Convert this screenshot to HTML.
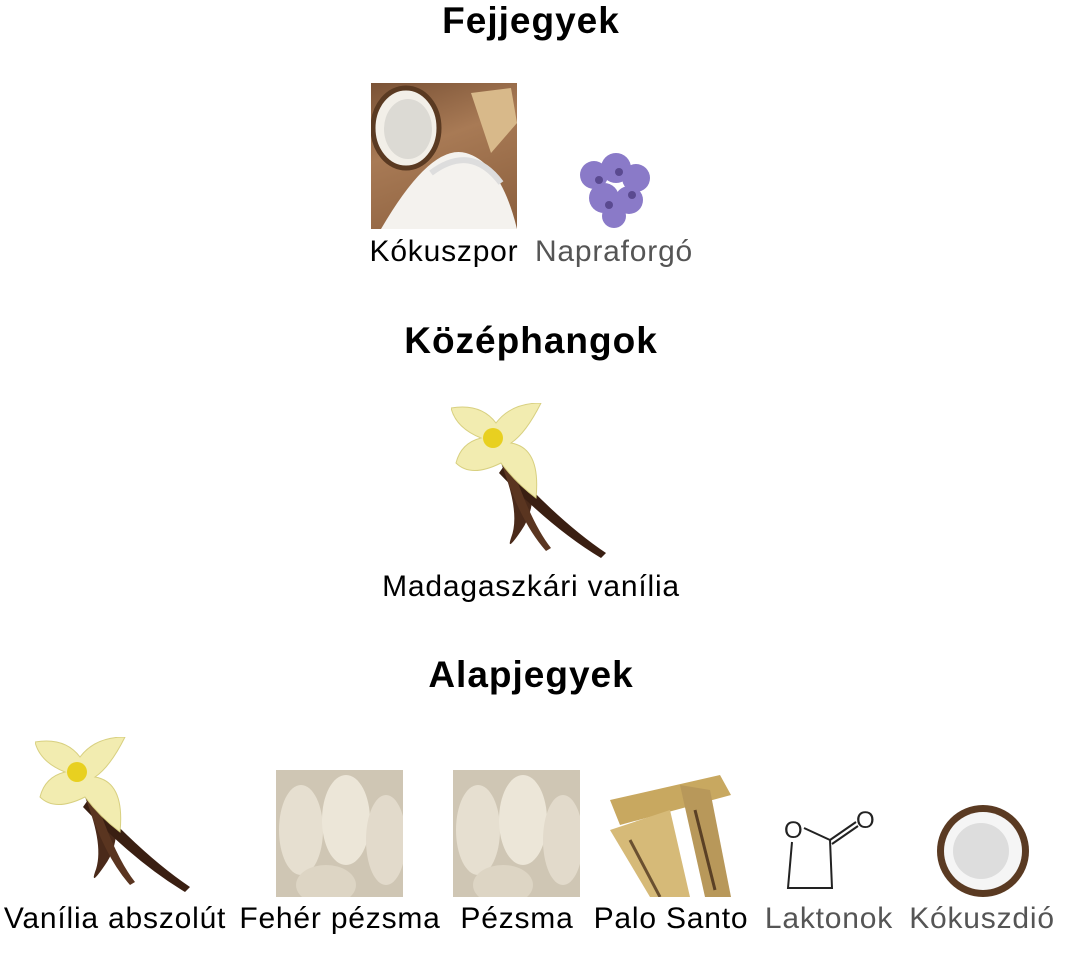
<!DOCTYPE html>
<html><head><meta charset="utf-8"><style>
body{margin:0;width:1089px;height:959px;background:#fff;font-family:"Liberation Sans",sans-serif;position:relative;overflow:hidden}
.h{position:absolute;left:0;width:1062px;text-align:center;font-weight:bold;font-size:37px;letter-spacing:1px;color:#000}
.l{position:absolute;width:400px;text-align:center;font-size:30px;letter-spacing:0.8px;color:#000;white-space:nowrap}
.g{color:#555}
.a{position:absolute}
</style></head><body>
<div class="h" style="top:0px">Fejjegyek</div>
<div class="h" style="top:320px">Középhangok</div>
<div class="h" style="top:654px">Alapjegyek</div>

<div class="a" style="left:371px;top:83px;width:146px;height:146px;background:linear-gradient(160deg,#7a5236,#a87a55 40%,#8a5e3c)"></div>
<svg class="a" style="left:371px;top:83px" width="146" height="146"><ellipse cx="35" cy="45" rx="33" ry="40" fill="#f2efe8" stroke="#5a3a22" stroke-width="5"/><ellipse cx="37" cy="46" rx="24" ry="30" fill="#dcdad4"/><path d="M100 10 L140 5 L146 40 L120 70Z" fill="#d8b98a"/><path d="M10 146 Q60 60 95 70 Q130 80 146 146Z" fill="#f4f2ee"/><path d="M60 90 Q100 60 130 100" fill="none" stroke="#ddd" stroke-width="6"/></svg>
<svg class="a" style="left:574px;top:150px" width="80" height="80"><g fill="#8a7ac8"><circle cx="20" cy="25" r="14"/><circle cx="42" cy="18" r="15"/><circle cx="62" cy="28" r="14"/><circle cx="30" cy="48" r="15"/><circle cx="55" cy="50" r="14"/><circle cx="40" cy="66" r="12"/></g><g fill="#5a4a90"><circle cx="25" cy="30" r="4"/><circle cx="45" cy="22" r="4"/><circle cx="58" cy="45" r="4"/><circle cx="35" cy="55" r="4"/></g></svg>
<div class="l" style="left:244px;top:235px">Kókuszpor</div>
<div class="l g" style="left:414px;top:235px">Napraforgó</div>

<svg class="a" style="left:451px;top:403px" width="160" height="158"><path d="M50 60 Q70 110 60 135 Q55 150 70 128 Q90 100 75 55Z" fill="#4a2a1a"/><path d="M55 60 Q110 120 155 150 L150 155 Q100 125 48 70Z" fill="#3a1f12"/><path d="M60 60 Q80 120 100 145 L95 148 Q70 120 52 65Z" fill="#5a3520"/><path d="M0 5 Q30 0 45 20 Q60 0 90 0 Q75 30 60 40 Q90 45 85 95 Q65 80 50 60 Q20 75 5 60 Q10 40 30 35 Q5 25 0 5Z" fill="#f2ecb0" stroke="#d8d080"/><circle cx="42" cy="35" r="10" fill="#e8d020"/></svg>
<div class="l" style="left:331px;top:570px">Madagaszkári vanília</div>

<svg class="a" style="left:35px;top:737px" width="160" height="158"><path d="M50 60 Q70 110 60 135 Q55 150 70 128 Q90 100 75 55Z" fill="#4a2a1a"/><path d="M55 60 Q110 120 155 150 L150 155 Q100 125 48 70Z" fill="#3a1f12"/><path d="M60 60 Q80 120 100 145 L95 148 Q70 120 52 65Z" fill="#5a3520"/><path d="M0 5 Q30 0 45 20 Q60 0 90 0 Q75 30 60 40 Q90 45 85 95 Q65 80 50 60 Q20 75 5 60 Q10 40 30 35 Q5 25 0 5Z" fill="#f2ecb0" stroke="#d8d080"/><circle cx="42" cy="35" r="10" fill="#e8d020"/></svg>
<svg class="a" style="left:276px;top:770px" width="127" height="127"><rect width="127" height="127" fill="#cfc6b4"/><ellipse cx="25" cy="60" rx="22" ry="45" fill="#e6dfd0"/><ellipse cx="70" cy="50" rx="24" ry="45" fill="#ece6d8"/><ellipse cx="110" cy="70" rx="20" ry="45" fill="#e2dacb"/><ellipse cx="50" cy="115" rx="30" ry="20" fill="#ddd5c4"/></svg>
<svg class="a" style="left:453px;top:770px" width="127" height="127"><rect width="127" height="127" fill="#cfc6b4"/><ellipse cx="25" cy="60" rx="22" ry="45" fill="#e6dfd0"/><ellipse cx="70" cy="50" rx="24" ry="45" fill="#ece6d8"/><ellipse cx="110" cy="70" rx="20" ry="45" fill="#e2dacb"/><ellipse cx="50" cy="115" rx="30" ry="20" fill="#ddd5c4"/></svg>
<svg class="a" style="left:610px;top:770px" width="121" height="127"><rect width="121" height="127" fill="#fff"/><path d="M0 30 L110 5 L121 25 L10 55Z" fill="#c8a860"/><path d="M70 15 L100 20 L121 127 L95 127Z" fill="#b8985a"/><path d="M0 60 L60 40 L80 127 L40 127Z" fill="#d6ba78"/><path d="M20 70 L50 127" stroke="#6a5030" stroke-width="3"/><path d="M85 40 L105 120" stroke="#5a4025" stroke-width="3"/></svg>
<svg class="a" style="left:780px;top:800px" width="100" height="92" fill="none" stroke="#222" stroke-width="2"><text x="4" y="38" font-family="Liberation Sans" font-size="24" fill="#222" stroke="none">O</text><text x="76" y="28" font-family="Liberation Sans" font-size="24" fill="#222" stroke="none">O</text><path d="M12 42 L8 88 L52 88 L50 40 L24 28"/><path d="M50 40 L76 22 M52 44 L78 26"/></svg>
<svg class="a" style="left:935px;top:803px" width="97" height="97"><circle cx="48" cy="48" r="46" fill="#5a3a22"/><circle cx="48" cy="48" r="39" fill="#f5f5f5"/><circle cx="46" cy="48" r="28" fill="#ddd"/></svg>

<div class="l" style="left:-85px;top:902px">Vanília abszolút</div>
<div class="l" style="left:140px;top:902px">Fehér pézsma</div>
<div class="l" style="left:317px;top:902px">Pézsma</div>
<div class="l" style="left:471px;top:902px">Palo Santo</div>
<div class="l g" style="left:629px;top:902px">Laktonok</div>
<div class="l g" style="left:782px;top:902px">Kókuszdió</div>
</body></html>
